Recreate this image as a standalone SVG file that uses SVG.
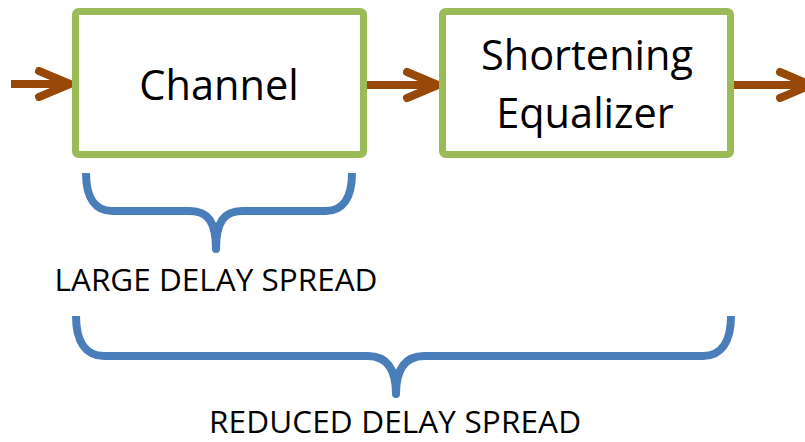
<svg xmlns="http://www.w3.org/2000/svg" width="805" height="442" viewBox="0 0 805 442">
  <style>
    .box { fill: #ffffff; stroke: #9bbb59; stroke-width: 7; }
    .flow { fill: none; stroke: #984807; stroke-width: 8; stroke-linecap: butt; }
    .brace { fill: none; stroke: #4a7ebb; stroke-width: 8; stroke-linecap: butt; stroke-linejoin: round; }
    .label { font-family: "Open Sans", "Noto Sans", sans-serif; fill: #000000; text-anchor: middle; }
    .big { font-size: 41.5px; }
    .small { font-size: 31.5px; }
  </style>
  <defs>
    <marker id="chevron" markerUnits="userSpaceOnUse" viewBox="-40 -20 50 40" refX="0" refY="0" markerWidth="50" markerHeight="40" orient="auto">
      <path d="M-31,-13 L0,0 L-31,13" fill="none" stroke="#984807" stroke-width="8" stroke-linecap="round" stroke-linejoin="round"/>
    </marker>
  </defs>

  <g id="connectors">
    <line class="flow" x1="11" y1="84" x2="70" y2="84" marker-end="url(#chevron)"/>
    <line class="flow" x1="367" y1="85" x2="438" y2="85" marker-end="url(#chevron)"/>
    <line class="flow" x1="734" y1="85" x2="811" y2="85" marker-end="url(#chevron)"/>
  </g>

  <g id="channel">
    <rect class="box" x="75.5" y="11.5" width="288" height="143" rx="3"/>
    <text class="label big" x="219" y="100">Channel</text>
  </g>

  <g id="equalizer">
    <rect class="box" x="442.5" y="11.5" width="288" height="143" rx="3"/>
    <text class="label big" x="587" y="70">Shortening</text>
    <text class="label big" x="585" y="128">Equalizer</text>
  </g>

  <g id="large-spread">
    <path class="brace" d="M86,173 C86,199 96,211 112,211 L190,211 C208,211 216,222 216,249 C216,222 224,211 242,211 L326,211 C342,211 352,199 352,173"/>
    <text class="label small" x="216" y="291">LARGE DELAY SPREAD</text>
  </g>

  <g id="reduced-spread">
    <path class="brace" d="M76,316 C76,342 86,356 104,356 L368,356 C386,356 396,368 396,394 C396,368 406,356 424,356 L703,356 C721,356 731,342 731,316"/>
    <text class="label small" x="395" y="433" textLength="372">REDUCED DELAY SPREAD</text>
  </g>
</svg>
